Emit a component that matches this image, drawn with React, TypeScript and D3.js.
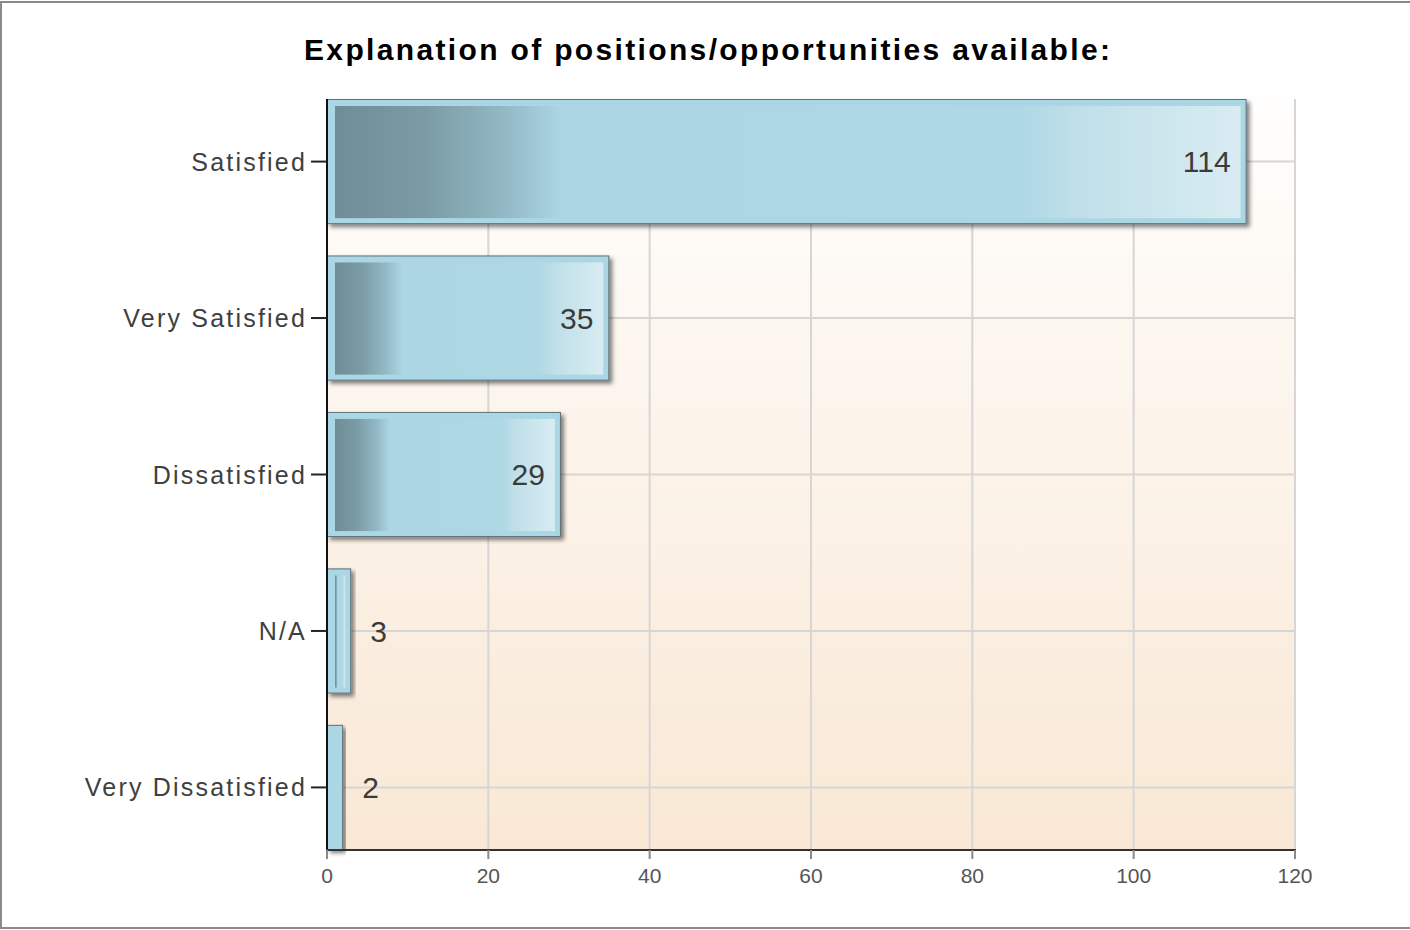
import * as d3 from 'd3';

const title = 'Explanation of positions/opportunities available:';
const categories = ['Satisfied', 'Very Satisfied', 'Dissatisfied', 'N/A', 'Very Dissatisfied'];
const counts = [114, 35, 29, 3, 2];
const xTicks = [0, 20, 40, 60, 80, 100, 120];

const W = 1410;
const H = 930;
const margin = { top: 99, right: 115, bottom: 80, left: 327 };
const FONT = '"Liberation Sans", Arial, sans-serif';

export default function App() {
  const x = d3.scaleLinear().domain([0, 120]).range([margin.left, W - margin.right]);
  const y = d3
    .scaleBand<string>()
    .domain(categories)
    .range([margin.top, H - margin.bottom])
    .paddingInner(0.2)
    .paddingOuter(0);

  const top = margin.top;
  const bottom = H - margin.bottom;
  const left = x(0);
  const right = x(120);
  const bw = y.bandwidth();

  return (
    <svg
      width={W}
      height={H}
      style={{ position: 'absolute', left: 0, top: 0, fontFamily: FONT }}
    >
      <defs>
        <linearGradient id="plotBg" x1="0" y1="0" x2="0" y2="1">
          <stop offset="0" stopColor="#fffefd" />
          <stop offset="1" stopColor="#f9e8d5" />
        </linearGradient>
        <linearGradient id="barFill" x1="0" y1="0" x2="1" y2="0">
          <stop offset="0" stopColor="#6f8d97" />
          <stop offset="0.1" stopColor="#7b9ba5" />
          <stop offset="0.19" stopColor="#93bac6" />
          <stop offset="0.25" stopColor="#acd6e3" />
          <stop offset="0.76" stopColor="#afd8e5" />
          <stop offset="0.82" stopColor="#c0dfe9" />
          <stop offset="1" stopColor="#d8ecf2" />
        </linearGradient>
        <filter id="shadow" x="-10%" y="-10%" width="130%" height="130%">
          <feDropShadow dx="3" dy="3" stdDeviation="2" floodColor="#000" floodOpacity="0.5" />
        </filter>
      </defs>

      <rect x={1} y={2} width={W + 10} height={H - 4} fill="#fff" stroke="#8a8a8a" strokeWidth={2} />

      <text
        x={304}
        y={60}
        textLength={806}
        lengthAdjust="spacing"
        fontSize={30}
        fontWeight="bold"
        fill="#000"
      >
        {title}
      </text>

      <rect x={left} y={top} width={right - left} height={bottom - top} fill="url(#plotBg)" />

      {xTicks.slice(1).map(t => (
        <line key={`vg${t}`} x1={x(t)} x2={x(t)} y1={top} y2={bottom} stroke="#d6d6d6" strokeWidth={2} />
      ))}
      {categories.map(c => {
        const cy = (y(c) ?? 0) + bw / 2;
        return <line key={`hg${c}`} x1={left} x2={right} y1={cy} y2={cy} stroke="#d6d6d6" strokeWidth={2} />;
      })}

      {categories.map((c, i) => {
        const by = y(c) ?? 0;
        const w = x(counts[i]) - left;
        const innerW = w - 14;
        return (
          <g key={`bar${c}`}>
            <rect
              x={left + 0.5}
              y={by + 0.5}
              width={w - 1}
              height={bw - 1}
              fill="#abd7e4"
              stroke="#5f7179"
              strokeWidth={1}
              filter="url(#shadow)"
            />
            {innerW > 4 && (
              <rect x={left + 8} y={by + 7} width={innerW} height={bw - 13} fill="url(#barFill)" />
            )}
          </g>
        );
      })}

      {categories.map((c, i) => {
        const cy = (y(c) ?? 0) + bw / 2;
        const xe = x(counts[i]);
        const inside = xe - left > 60;
        return (
          <text
            key={`val${c}`}
            x={inside ? xe - 16 : xe + 19}
            y={cy}
            dy="0.36em"
            textAnchor={inside ? 'end' : 'start'}
            fontSize={30}
            fill="#3b3b3b"
          >
            {counts[i]}
          </text>
        );
      })}

      <line x1={left} x2={left} y1={top} y2={bottom + 1} stroke="#111" strokeWidth={2} />
      {categories.map(c => {
        const cy = (y(c) ?? 0) + bw / 2;
        return (
          <g key={`yt${c}`}>
            <line x1={left - 16} x2={left} y1={cy} y2={cy} stroke="#222" strokeWidth={2} />
            <text
              x={left - 20}
              y={cy}
              dy="0.36em"
              textAnchor="end"
              fontSize={25}
              letterSpacing={2.2}
              fill="#3f3f3f"
            >
              {c}
            </text>
          </g>
        );
      })}

      <line x1={left - 1} x2={right + 1} y1={bottom} y2={bottom} stroke="#333" strokeWidth={2} />
      {xTicks.map(t => (
        <g key={`xt${t}`}>
          <line x1={x(t)} x2={x(t)} y1={bottom} y2={bottom + 9} stroke="#8a8a8a" strokeWidth={2} />
          <text x={x(t)} y={bottom + 33} textAnchor="middle" fontSize={21} fill="#555">
            {t}
          </text>
        </g>
      ))}
    </svg>
  );
}
